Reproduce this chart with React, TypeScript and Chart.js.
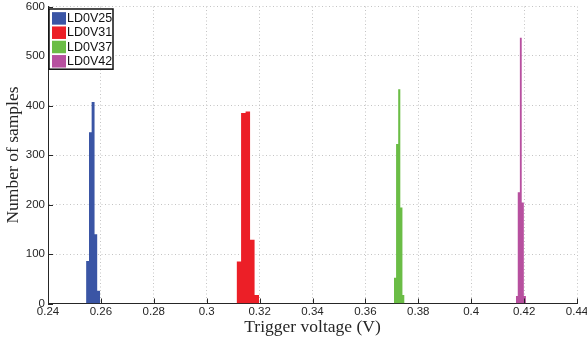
import React, { useEffect, useRef } from "react";
import { Chart, registerables } from "chart.js";

Chart.register(...registerables);

// Series names and colours
const seriesNames = ["LD0V25", "LD0V31", "LD0V37", "LD0V42"];
const seriesColors = ["#3A55A5", "#EC1F27", "#6BBD46", "#B7509F"];

// Histogram bin edges (V) and counts per series
const binEdges25 = [0.2544, 0.2555, 0.2565, 0.2576, 0.2586, 0.2597];
const counts25 = [86, 346, 407, 140, 26];

const binEdges31 = [0.3113, 0.313, 0.3147, 0.3164, 0.3181, 0.3198];
const counts31 = [85, 385, 388, 129, 17];

const binEdges37 = [0.3708, 0.3716, 0.3724, 0.3732, 0.374, 0.3748];
const counts37 = [52, 322, 433, 194, 17];

const binEdges42 = [0.4169, 0.4176, 0.4184, 0.4191, 0.4199, 0.4207];
const counts42 = [15, 225, 537, 204, 15];

// Axis ticks
const xTicks = [0.24, 0.26, 0.28, 0.3, 0.32, 0.34, 0.36, 0.38, 0.4, 0.42, 0.44];
const yTicks = [0, 100, 200, 300, 400, 500, 600];

const allEdges = [binEdges25, binEdges31, binEdges37, binEdges42];
const allCounts = [counts25, counts31, counts37, counts42];

const AXIS_COLOR = "#262626";

const inwardTicks = {
  id: "inwardTicks",
  afterDatasetsDraw(chart: any) {
    const { ctx, chartArea, scales } = chart;
    ctx.save();
    ctx.strokeStyle = AXIS_COLOR;
    ctx.lineWidth = 1;
    ctx.beginPath();
    xTicks.forEach((v) => {
      const px = Math.round(scales.x.getPixelForValue(v)) + 0.5;
      ctx.moveTo(px, chartArea.bottom);
      ctx.lineTo(px, chartArea.bottom - 5);
    });
    yTicks.forEach((v) => {
      const py = Math.round(scales.y.getPixelForValue(v)) + 0.5;
      ctx.moveTo(chartArea.left, py);
      ctx.lineTo(chartArea.left + 5, py);
    });
    ctx.stroke();
    ctx.restore();
  },
};

const boxLegend = {
  id: "boxLegend",
  afterDraw(chart: any) {
    const { ctx, chartArea } = chart;
    const datasets = chart.data.datasets;
    const x0 = chartArea.left + 1;
    const y0 = chartArea.top + 2.5;
    const rowH = 14.3;
    const w = 64;
    const h = rowH * datasets.length + 3;
    ctx.save();
    ctx.fillStyle = "#ffffff";
    ctx.fillRect(x0, y0, w, h);
    ctx.strokeStyle = "#111111";
    ctx.lineWidth = 1.5;
    ctx.strokeRect(x0, y0, w, h);
    ctx.font = "12.5px 'Liberation Sans', Arial, sans-serif";
    ctx.textBaseline = "middle";
    ctx.textAlign = "left";
    datasets.forEach((ds: any, i: number) => {
      const cy = y0 + 2 + rowH * i + rowH / 2;
      ctx.fillStyle = ds.backgroundColor;
      ctx.fillRect(x0 + 3, cy - 6, 14, 12.5);
      ctx.fillStyle = "#111111";
      ctx.fillText(ds.label, x0 + 18, cy + 0.5);
    });
    ctx.restore();
  },
};

export default function App() {
  const canvasRef = useRef<HTMLCanvasElement | null>(null);

  useEffect(() => {
    if (!canvasRef.current) return;
    const datasets = seriesNames.map((name, s) => ({
      type: "line" as const,
      label: name,
      data: allEdges[s].map((e, i) => ({
        x: e,
        y: i < allCounts[s].length ? allCounts[s][i] : 0,
      })),
      stepped: true,
      fill: "origin",
      borderWidth: 0,
      pointRadius: 0,
      backgroundColor: seriesColors[s],
      borderColor: seriesColors[s],
    }));

    const chart = new Chart(canvasRef.current, {
      type: "line",
      data: { datasets },
      options: {
        animation: false,
        responsive: false,
        maintainAspectRatio: false,
        layout: { padding: { top: 6.5, right: 10, left: 0, bottom: 0 } },
        plugins: {
          legend: { display: false },
          tooltip: { enabled: false },
        },
        scales: {
          x: {
            type: "linear",
            min: 0.24,
            max: 0.44,
            afterBuildTicks: (scale: any) => {
              scale.ticks = xTicks.map((v) => ({ value: v }));
            },
            afterFit: (scale: any) => {
              scale.height = 36.5;
              scale.paddingLeft = 0;
              scale.paddingRight = 0;
            },
            ticks: {
              callback: (v: any) => String(Number(Number(v).toFixed(2))),
              font: { family: "'Liberation Sans', Arial, sans-serif", size: 11.5 },
              color: AXIS_COLOR,
              padding: 1,
              maxRotation: 0,
              autoSkip: false,
            },
            grid: {
              color: "#c4c4c4",
              lineWidth: 1,
              drawTicks: false,
            },
            border: { display: true, color: AXIS_COLOR, width: 1, dash: [1, 2.5] },
            title: {
              display: true,
              text: "Trigger voltage (V)",
              font: { family: "'Liberation Serif', 'Times New Roman', serif", size: 17.5 },
              color: AXIS_COLOR,
              padding: { top: 0, bottom: 2 },
            },
          },
          y: {
            type: "linear",
            min: 0,
            max: 600,
            afterBuildTicks: (scale: any) => {
              scale.ticks = yTicks.map((v) => ({ value: v }));
            },
            afterFit: (scale: any) => {
              scale.width = 48;
              scale.paddingTop = 0;
              scale.paddingBottom = 0;
            },
            ticks: {
              font: { family: "'Liberation Sans', Arial, sans-serif", size: 11.5 },
              color: AXIS_COLOR,
              padding: 3,
            },
            grid: {
              color: "#c4c4c4",
              lineWidth: 1,
              drawTicks: false,
            },
            border: { display: true, color: AXIS_COLOR, width: 1, dash: [1, 2.5] },
            title: {
              display: true,
              text: "Number of samples",
              font: { family: "'Liberation Serif', 'Times New Roman', serif", size: 17.5 },
              color: AXIS_COLOR,
              padding: { top: 3, bottom: 0 },
            },
          },
        },
      },
      plugins: [inwardTicks, boxLegend],
    } as any);

    return () => chart.destroy();
  }, []);

  return (
    <div style={{ position: "fixed", left: 0, top: 0, width: 587, height: 340, background: "#fff" }}>
      <canvas ref={canvasRef} width={587} height={340} style={{ width: 587, height: 340 }} />
    </div>
  );
}
